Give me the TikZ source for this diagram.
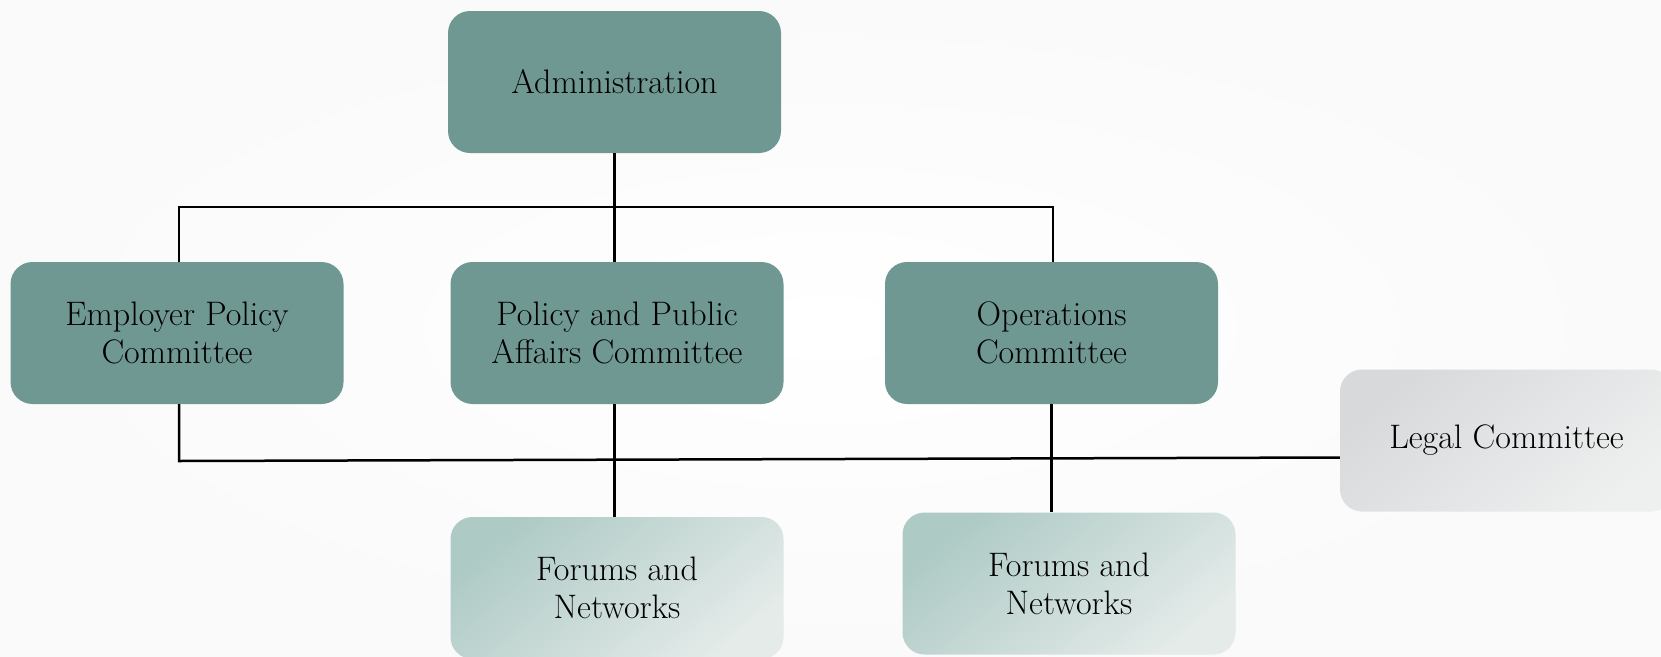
\documentclass[tikz,border=0pt]{standalone}
\usepackage{tikz}
\usetikzlibrary{positioning}
\tikzstyle{chart} = [x = 1pt, y = -1pt]
\definecolor{boxColor}{HTML}{6F9893}
\definecolor{forumTop}{HTML}{AECAC5}
\definecolor{forumBottom}{HTML}{E4EBE9}
\definecolor{legalTop}{HTML}{D8D9DB}
\definecolor{legalBottom}{HTML}{EEEFEF}
\tikzstyle{committeeBox} = [rounded corners = 22pt, minimum width = 333pt, minimum height = 142pt, inner sep = 0pt, align = center, font = \fontsize{34}{38}\selectfont]
\tikzstyle{mainBox} = [committeeBox, fill = boxColor]
\tikzstyle{forumBox} = [committeeBox, top color = forumTop, bottom color = forumBottom, shading angle = 40]
\tikzstyle{legalBox} = [committeeBox, top color = legalTop, bottom color = legalBottom, shading angle = 40]
\tikzstyle{linkLine} = [line width = 2.5pt, color = black]

\begin{document}
\begin{tikzpicture}[chart]
  \useasboundingbox (0,0) rectangle (1661,656);
  \shade [inner color = white, outer color = black!2] (0,0) rectangle (1661,656);

  % committee boxes
  \node [mainBox] (administration) at (614.5,82) {Administration};
  \node [mainBox] (employerPolicy) at (177,333) {Employer Policy\\Committee};
  \node [mainBox] (publicAffairs) at (617,333) {Policy and Public\\Affairs Committee};
  \node [mainBox] (operations) at (1051.5,333) {Operations\\Committee};
  \node [legalBox] (legal) at (1506.5,440.5) {Legal Committee};
  \node [forumBox] (forumsLeft) at (617,588) {Forums and\\Networks};
  \node [forumBox] (forumsRight) at (1069,583.5) {Forums and\\Networks};

  % connectors
  \coordinate (busLeft) at (179,207);
  \coordinate (busRight) at (1053,207);
  \coordinate (lowLeft) at (179,461);
  \draw [linkLine] (administration.south) -- (administration.south |- publicAffairs.north);
  \draw [linkLine] (busLeft |- employerPolicy.north) -- (busLeft) -- (busRight) -- (busRight |- operations.north);
  \draw [linkLine] (busLeft |- employerPolicy.south) -- (lowLeft) -- ([yshift=-17pt]legal.west);
  \draw [linkLine] (administration.south |- publicAffairs.south) -- (administration.south |- forumsLeft.north);
  \draw [linkLine] (operations.south) -- (operations.south |- forumsRight.north);
\end{tikzpicture}
\end{document}
